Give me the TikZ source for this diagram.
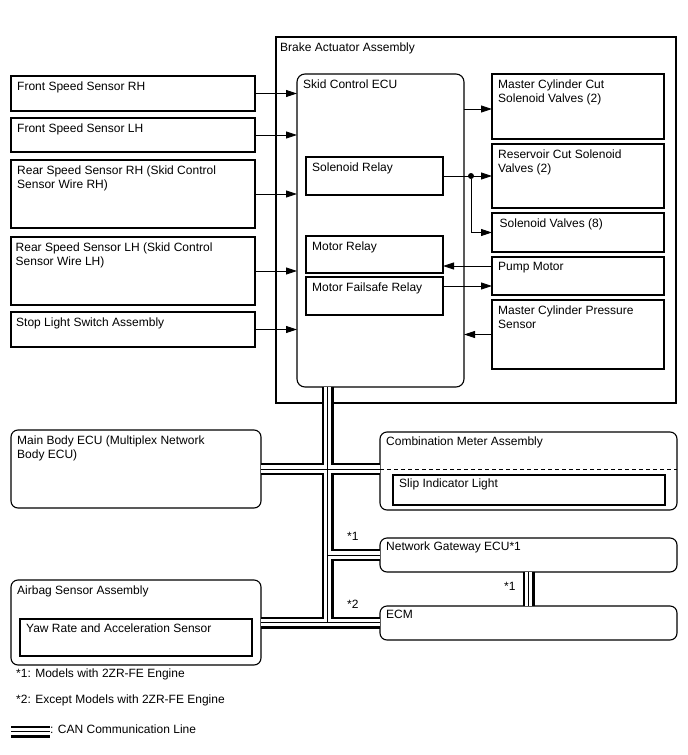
\documentclass[tikz,border=0pt]{standalone}
\usepackage{fontspec}
\setmainfont{Liberation Sans}
\usepackage{tikz}
\usetikzlibrary{arrows.meta,positioning}

\begin{document}
\begin{tikzpicture}[
    x=1pt, y=-1pt,
    font=\fontsize{12}{14}\selectfont,
    box/.style={rectangle, draw, line width=1.1pt, anchor=north west, inner sep=0pt, outer sep=0pt},
    rbox/.style={box, rounded corners=7pt},
    txt/.style={anchor=north west, inner sep=0pt, xshift=6pt, yshift=-5.5pt, align=left},
    note/.style={anchor=base west, inner sep=0pt},
    arrow/.style={-{Triangle[length=11pt, width=7pt]}, line width=0.9pt},
    dot/.style={circle, fill, inner sep=0pt, minimum size=6pt},
    can/.style={line width=12pt, postaction={draw=white, line width=7.5pt}, postaction={draw=black, line width=0.7pt}}
]
    \useasboundingbox (0,0) rectangle (688,755);

    % brake actuator
    \node[box, minimum width=400pt, minimum height=366pt, label={[txt, xshift=-2pt]north west:Brake Actuator Assembly}] (baa) at (276,37) {};
    \node[rbox, rounded corners=8pt, minimum width=167pt, minimum height=313pt, label={[txt]north west:Skid Control ECU}] (ecu) at (297,74) {};
    \node[box, minimum width=137pt, minimum height=38pt, label={[txt]north west:Solenoid Relay}] (sr) at (306,157) {};
    \node[box, minimum width=137pt, minimum height=37pt, label={[txt]north west:Motor Relay}] (mr) at (306,236) {};
    \node[box, minimum width=137pt, minimum height=38pt, label={[txt]north west:Motor Failsafe Relay}] (mfr) at (306,277) {};

    \node[box, minimum width=172pt, minimum height=65pt, label={[txt]north west:Master Cylinder Cut\\Solenoid Valves (2)}] (mcc) at (492,74) {};
    \node[box, minimum width=172pt, minimum height=64pt, label={[txt]north west:Reservoir Cut Solenoid\\Valves (2)}] (rcv) at (492,144) {};
    \node[box, minimum width=172pt, minimum height=39pt, label={[txt, xshift=1.5pt]north west:Solenoid Valves (8)}] (sv) at (492,213) {};
    \node[box, minimum width=172pt, minimum height=38pt, label={[txt]north west:Pump Motor}] (pm) at (492,257) {};
    \node[box, minimum width=172pt, minimum height=69pt, label={[txt]north west:Master Cylinder Pressure\\Sensor}] (mcps) at (492,300) {};

    % sensors
    \node[box, minimum width=244pt, minimum height=35pt, label={[txt]north west:Front Speed Sensor RH}] (fsrh) at (11,76) {};
    \node[box, minimum width=244pt, minimum height=34pt, label={[txt]north west:Front Speed Sensor LH}] (fslh) at (11,118) {};
    \node[box, minimum width=244pt, minimum height=68pt, label={[txt]north west:Rear Speed Sensor RH (Skid Control\\Sensor Wire RH)}] (rsrh) at (11,160) {};
    \node[box, minimum width=244pt, minimum height=68pt, label={[txt, xshift=-1.5pt]north west:Rear Speed Sensor LH (Skid Control\\Sensor Wire LH)}] (rslh) at (11,237) {};
    \node[box, minimum width=244pt, minimum height=35pt, label={[txt, xshift=-1pt]north west:Stop Light Switch Assembly}] (sls) at (11,312) {};

    % network
    \node[rbox, minimum width=250pt, minimum height=78pt, label={[txt]north west:Main Body ECU (Multiplex Network\\Body ECU)}] (mb) at (11,430) {};
    \node[rbox, minimum width=250pt, minimum height=85pt, label={[txt]north west:Airbag Sensor Assembly}] (ab) at (11,580) {};
    \node[box, minimum width=232pt, minimum height=37pt, label={[txt, yshift=1pt]north west:Yaw Rate and Acceleration Sensor}] (yaw) at (20,619) {};
    \node[rbox, minimum width=297pt, minimum height=78pt, label={[txt, yshift=1pt]north west:Combination Meter Assembly}] (cm) at (380,432) {};
    \node[box, minimum width=272pt, minimum height=30pt, label={[txt, yshift=1.5pt]north west:Slip Indicator Light}] (sil) at (393,475) {};
    \node[rbox, minimum width=297pt, minimum height=34pt, label={[txt, yshift=1.5pt]north west:Network Gateway ECU*1}] (gw) at (380,538) {};
    \node[rbox, minimum width=297pt, minimum height=34pt, label={[txt, yshift=1.5pt]north west:ECM}] (ecm) at (380,606) {};

    \draw[line width=0.9pt, dash pattern=on 4pt off 3pt] ([yshift=2pt]cm.west) -- ([yshift=2pt]cm.east);

    % inputs to skid control ecu
    \draw[arrow] (fsrh.east) -- (fsrh.east -| ecu.west);
    \draw[arrow] (fslh.east) -- (fslh.east -| ecu.west);
    \draw[arrow] (rsrh.east) -- (rsrh.east -| ecu.west);
    \draw[arrow] (rslh.east) -- (rslh.east -| ecu.west);
    \draw[arrow] (sls.east) -- (sls.east -| ecu.west);

    % actuator side
    \coordinate (mccin) at ([yshift=-2.5pt]mcc.west);
    \coordinate (pmin) at ([yshift=10pt]pm.west);
    \coordinate (pmout) at ([yshift=-10pt]pm.west);
    \node[dot] (split) at (471,176) {};
    \draw[arrow] (mccin -| ecu.east) -- (mccin);
    \draw[arrow] (sr.east) -- (rcv.west);
    \draw[arrow] (split) |- (sv.west);
    \draw[arrow] (pmin) -- (pmin -| mr.east);
    \draw[arrow] (pmout -| mfr.east) -- (pmout);
    \draw[arrow] (mcps.west) -- (mcps.west -| ecu.east);

    % can bus
    \coordinate (bus) at (327.5,469);
    \draw[can] (ecu.south -| bus) -- (ab.east -| bus)
        (mb.east) -- (mb.east -| cm.west)
        (gw.west -| bus) -- (gw.west)
        (ab.east) -- (ab.east -| ecm.west)
        (gw.south) -- (ecm.north);

    \node[note] (s1a) at (347,540) {*1};
    \node[note] (s2) at (347,608) {*2};
    \node[note] (s1b) at (504,590) {*1};

    % notes
    \node[note] (fn1) at (16,677) {*1: Models with 2ZR-FE Engine};
    \node[note] (fn2) at (16,703) {*2: Except Models with 2ZR-FE Engine};
    \node[note] (canlbl) at (50,733) {: CAN Communication Line};
    \coordinate (canL) at (11,731.5);
    \draw[can] (canL) -- (canL -| canlbl.west);
\end{tikzpicture}
\end{document}
